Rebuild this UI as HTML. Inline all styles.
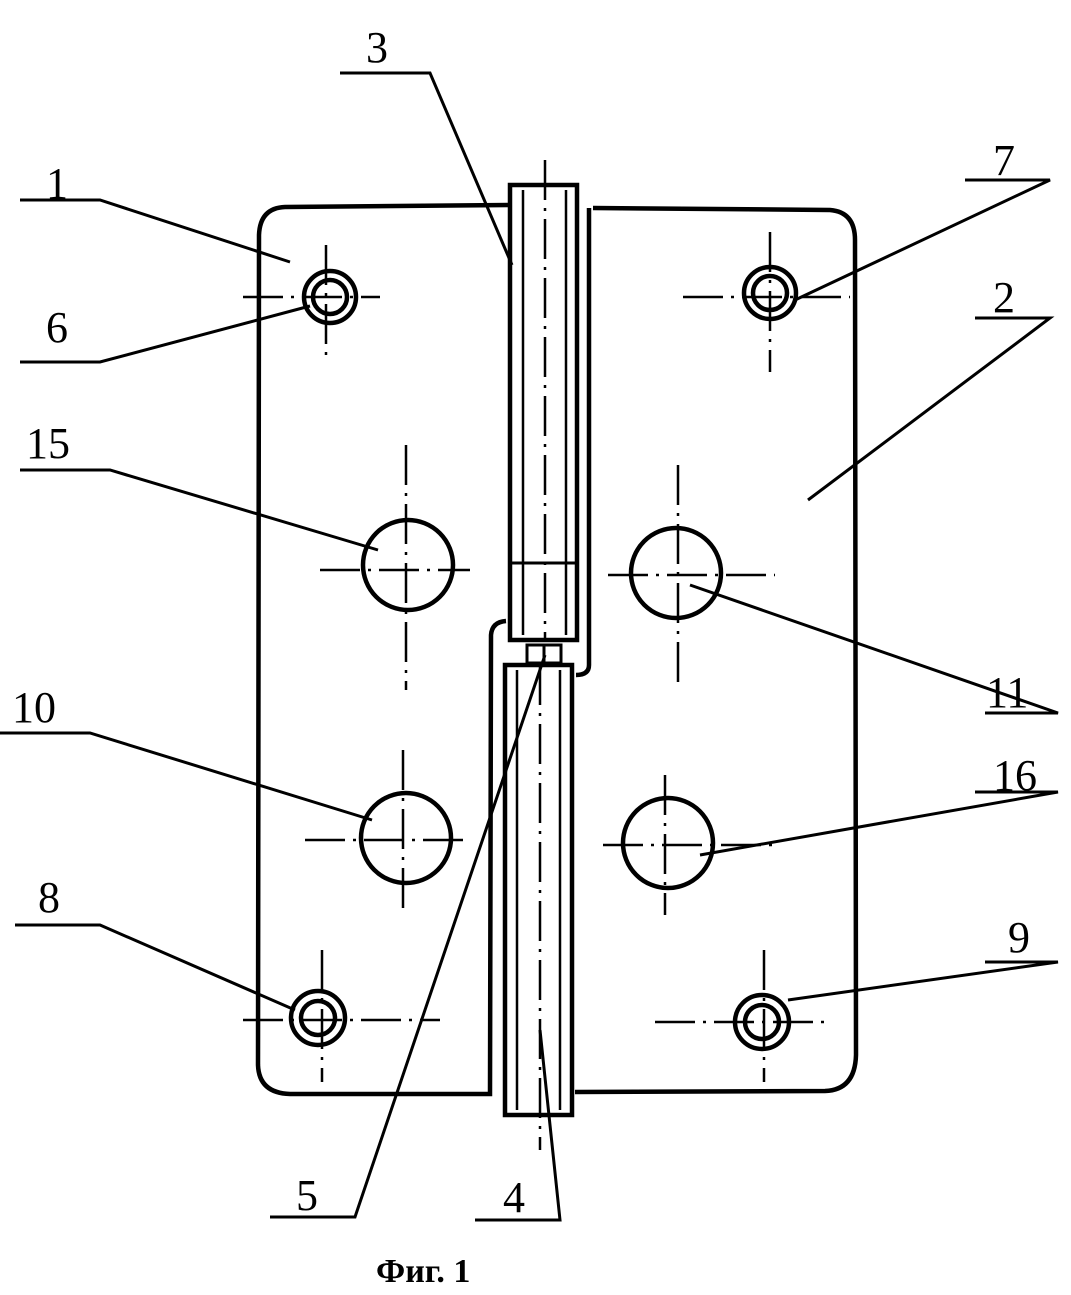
<!DOCTYPE html>
<html><head><meta charset="utf-8"><style>body{margin:0;background:#fff}svg{display:block}</style></head><body>
<svg width="1071" height="1295" viewBox="0 0 1071 1295" xmlns="http://www.w3.org/2000/svg" font-family="Liberation Serif, serif">
<g fill="none" stroke="#000" stroke-width="4.5">
<path d="M512,205 L285,207 Q260,208 259,235 L258,1065 Q259,1093 290,1094 L490,1094 L491,635 Q492,622 506,621"/>
<path d="M593,208 L830,210 Q855,212 855,240 L856,1055 Q855,1090 825,1091 L575,1092"/>
<path d="M589,208 L589,665 Q589,675 576,675"/>
<rect x="510" y="185" width="67" height="455"/>
<rect x="505" y="665" width="67" height="450"/>
<rect x="527" y="645" width="34" height="18" stroke-width="3"/>
<line x1="544" y1="645" x2="544" y2="663" stroke-width="3"/>
<circle cx="330" cy="297" r="26"/><circle cx="330" cy="297" r="17"/>
<circle cx="770" cy="293" r="26"/><circle cx="770" cy="293" r="17"/>
<circle cx="318" cy="1018" r="27"/><circle cx="318" cy="1018" r="17"/>
<circle cx="762" cy="1022" r="27"/><circle cx="762" cy="1022" r="17"/>
<circle cx="408" cy="565" r="45"/>
<circle cx="676" cy="573" r="45"/>
<circle cx="406" cy="838" r="45"/>
<circle cx="668" cy="843" r="45"/>
</g>
<g fill="none" stroke="#000" stroke-width="2.5">
<line x1="523" y1="190" x2="523" y2="635"/><line x1="566" y1="190" x2="566" y2="635"/>
<line x1="512" y1="563" x2="576" y2="563" stroke-width="3"/>
<line x1="517" y1="670" x2="517" y2="1110"/><line x1="560" y1="670" x2="560" y2="1110"/>
<g stroke-dasharray="40,8,3,8">
<line x1="545" y1="160" x2="545" y2="640"/>
<line x1="540" y1="665" x2="540" y2="1150"/>
<line x1="243" y1="297" x2="380" y2="297"/><line x1="326" y1="245" x2="326" y2="355"/>
<line x1="683" y1="297" x2="850" y2="297"/><line x1="770" y1="232" x2="770" y2="372"/>
<line x1="320" y1="570" x2="470" y2="570"/><line x1="406" y1="445" x2="406" y2="690"/>
<line x1="608" y1="575" x2="775" y2="575"/><line x1="678" y1="465" x2="678" y2="690"/>
<line x1="305" y1="840" x2="470" y2="840"/><line x1="403" y1="750" x2="403" y2="915"/>
<line x1="603" y1="845" x2="775" y2="845"/><line x1="665" y1="775" x2="665" y2="915"/>
<line x1="243" y1="1020" x2="440" y2="1020"/><line x1="322" y1="950" x2="322" y2="1082"/>
<line x1="655" y1="1022" x2="826" y2="1022"/><line x1="764" y1="950" x2="764" y2="1082"/>
</g>
<g stroke-width="3">
<path d="M20,200 L100,200 L290,262"/>
<path d="M340,73 L430,73 L512,265"/>
<path d="M965,180 L1050,180 L795,300"/>
<path d="M975,318 L1050,318 L808,500"/>
<path d="M20,362 L100,362 L310,306"/>
<path d="M20,470 L110,470 L378,550"/>
<path d="M985,713 L1058,713 L690,585"/>
<path d="M0,733 L90,733 L372,820"/>
<path d="M975,792 L1058,792 L700,855"/>
<path d="M15,925 L100,925 L295,1010"/>
<path d="M985,962 L1058,962 L788,1000"/>
<path d="M270,1217 L355,1217 L545,655"/>
<path d="M475,1220 L560,1220 L540,1030"/>
</g>
</g>
<g font-size="44" fill="#000">
<text x="46" y="198">1</text>
<text x="366" y="62">3</text>
<text x="993" y="175">7</text>
<text x="993" y="312">2</text>
<text x="46" y="342">6</text>
<text x="26" y="458">15</text>
<text x="986" y="707">11</text>
<text x="12" y="722">10</text>
<text x="993" y="790">16</text>
<text x="38" y="912">8</text>
<text x="1008" y="952">9</text>
<text x="296" y="1210">5</text>
<text x="503" y="1212">4</text>
</g>
<text x="376" y="1282" font-size="34" font-weight="bold">Фиг. 1</text>
</svg>
</body></html>
